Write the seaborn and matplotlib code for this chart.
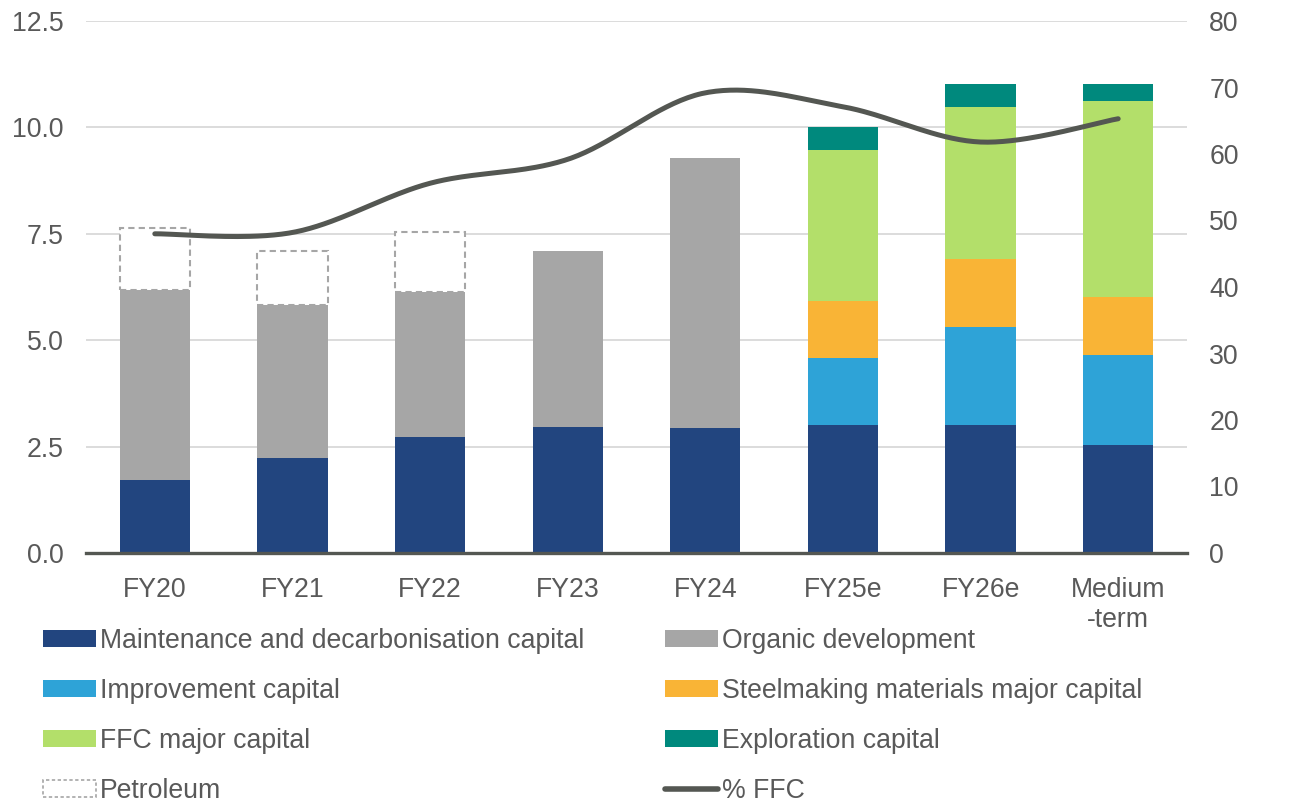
# stacked capex bars with % FFC line on a second axis
import numpy as np
import seaborn as sns
import matplotlib.pyplot as plt
from matplotlib.patches import Patch
from matplotlib.lines import Line2D

# data (US$bn)
years = ['FY20', 'FY21', 'FY22', 'FY23', 'FY24', 'FY25e', 'FY26e', 'Medium\n-term']
maintenance = [1.72, 2.23, 2.73, 2.96, 2.94, 3.00, 3.01, 2.54]
organic = [4.46, 3.60, 3.40, 4.14, 6.34, 0, 0, 0]
improvement = [0, 0, 0, 0, 0, 1.58, 2.29, 2.12]
steelmaking = [0, 0, 0, 0, 0, 1.34, 1.60, 1.36]
ffc_major = [0, 0, 0, 0, 0, 3.56, 3.59, 4.60]
exploration = [0, 0, 0, 0, 0, 0.52, 0.52, 0.39]
petroleum = [1.46, 1.27, 1.41, 0, 0, 0, 0, 0]
pct_ffc = [48.0, 48.2, 55.6, 59.2, 69.2, 67.1, 61.8, 65.3]

series = [
    ('Maintenance and decarbonisation capital', maintenance, '#22457f'),
    ('Organic development', organic, '#a6a6a6'),
    ('Improvement capital', improvement, '#2ea3d7'),
    ('Steelmaking materials major capital', steelmaking, '#f9b436'),
    ('FFC major capital', ffc_major, '#b3df6a'),
    ('Exploration capital', exploration, '#00897d'),
]

text_col = '#595959'
line_col = '#545752'
fs = 19.2

sns.set_theme(style='white')
plt.rcParams['font.family'] = ['Liberation Sans', 'DejaVu Sans']
plt.rcParams['font.size'] = fs

fig = plt.figure(figsize=(12.96, 8.07), dpi=100)
ax = fig.add_axes([86/1296, 1-553/807, 1101/1296, 532/807])

bottom = np.zeros(len(years))
for name, vals, col in series:
    sns.barplot(x=years, y=vals, bottom=bottom, color=col, width=0.51,
                linewidth=0, saturation=1, ax=ax)
    bottom = bottom + np.array(vals)

# petroleum - dashed outline, no fill (only where there is some)
keep = [i for i, v in enumerate(petroleum) if v > 0]
sns.barplot(x=[years[i] for i in keep], y=[petroleum[i] for i in keep],
            bottom=bottom[keep], order=years, color='white', width=0.51,
            edgecolor='#a6a6a6', linewidth=1.5, linestyle=(0, (3, 2)),
            saturation=1, ax=ax)

ax.set_xlim(-0.5, len(years) - 0.5)
ax.set_ylim(0, 12.5)
ax.set_yticks(np.arange(0, 12.6, 2.5))
ax.set_yticklabels([f'{v:.1f}' for v in np.arange(0, 12.6, 2.5)])
ax.yaxis.grid(True, color='#d9d9d9', linewidth=1.3)
ax.set_axisbelow(True)
ax.set_xlabel('')
ax.set_ylabel('')
for s in ['top', 'left', 'right']:
    ax.spines[s].set_visible(False)
ax.spines['bottom'].set_color(line_col)
ax.spines['bottom'].set_linewidth(2.4)
ax.spines['bottom'].set_zorder(5)
ax.tick_params(axis='y', length=0, pad=16, labelcolor=text_col, labelsize=fs)
ax.tick_params(axis='x', length=0, pad=17, labelcolor=text_col, labelsize=fs)

# smoothed % FFC line (bezier through the points, like Excel's smoothed line)
ax2 = ax.twinx()
px = np.arange(len(pct_ffc), dtype=float)
py = np.array(pct_ffc)
P = np.column_stack([px, py])
Pe = np.vstack([P[0], P, P[-1]])
xs, ys = [], []
t = np.linspace(0, 1, 40)[:, None]
for i in range(len(P) - 1):
    p0, p3 = Pe[i+1], Pe[i+2]
    c1 = p0 + (Pe[i+2] - Pe[i]) / 6
    c2 = p3 - (Pe[i+3] - Pe[i+1]) / 6
    seg = (1-t)**3*p0 + 3*(1-t)**2*t*c1 + 3*(1-t)*t**2*c2 + t**3*p3
    xs.extend(seg[:, 0])
    ys.extend(seg[:, 1])
ax2.plot(xs, ys, color=line_col, linewidth=3.6, solid_capstyle='round', zorder=6)
ax2.set_ylim(0, 80)
ax2.set_yticks(range(0, 81, 10))
ax2.grid(False)
for s in ['top', 'left', 'right', 'bottom']:
    ax2.spines[s].set_visible(False)
ax2.tick_params(axis='y', length=0, pad=16, labelcolor=text_col, labelsize=fs)
ax.set_xlim(-0.5, len(years) - 0.5)

# legend, two columns
hl = [Patch(facecolor=c, edgecolor='none') for _, _, c in series]
pet = Patch(facecolor='white', edgecolor='#a6a6a6', linestyle=(0, (2, 1.5)), linewidth=1.2)
ffc_line = Line2D([], [], color=line_col, linewidth=4, solid_capstyle='round')
col1 = [(hl[0], series[0][0]), (hl[2], series[2][0]), (hl[4], series[4][0]), (pet, 'Petroleum')]
col2 = [(hl[1], series[1][0]), (hl[3], series[3][0]), (hl[5], series[5][0]), (ffc_line, '% FFC')]
for items, x0 in [(col1, 43/1296), (col2, 665/1296)]:
    leg = fig.legend([h for h, _ in items], [l for _, l in items], loc='upper left',
                     bbox_to_anchor=(x0, 1-628/807), frameon=False, borderpad=0,
                     borderaxespad=0, handlelength=2.0, handleheight=0.56,
                     handletextpad=0.12, labelspacing=0.9, fontsize=fs,
                     labelcolor=text_col)

fig.savefig('out.png', dpi=100)
